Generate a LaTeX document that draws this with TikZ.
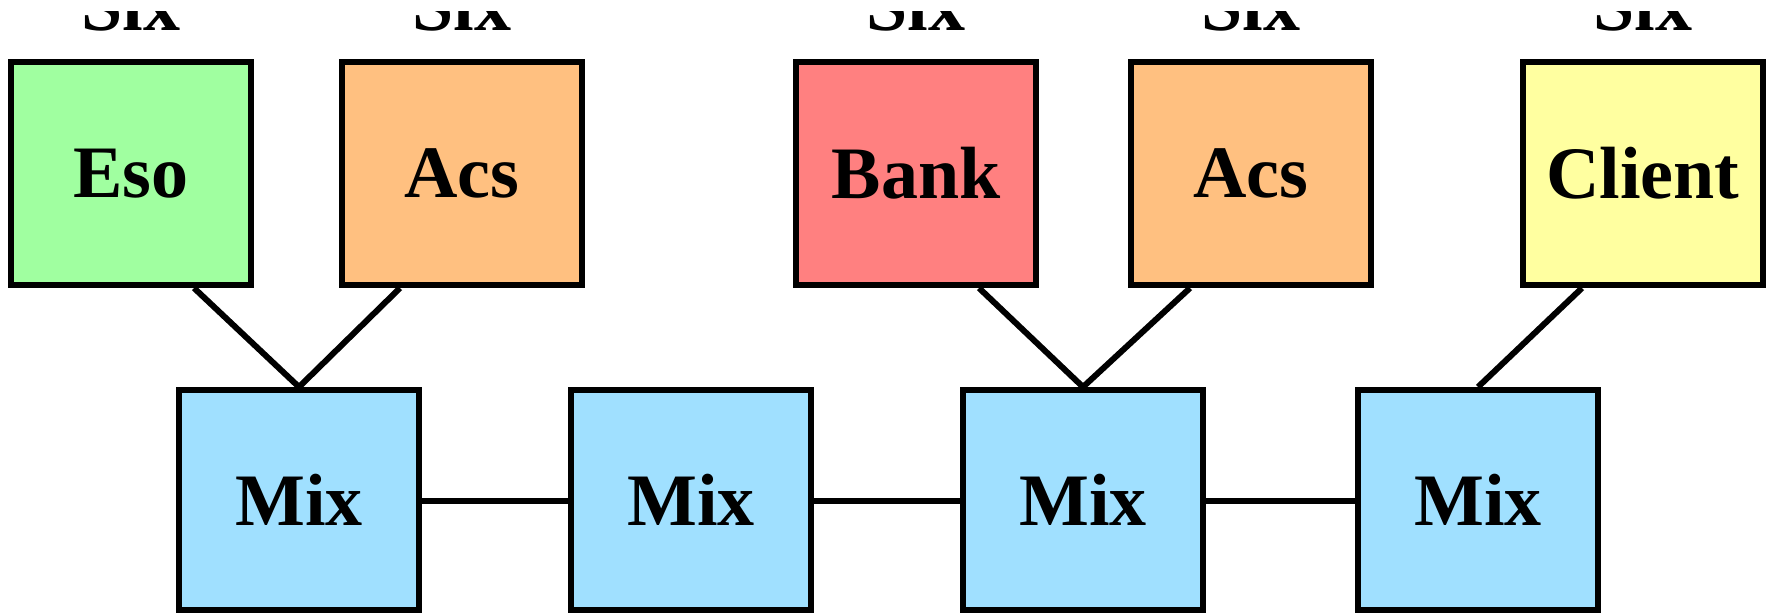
\documentclass[tikz,border=0pt]{standalone}
\usepackage{fontspec}
\setmainfont{Liberation Serif}
\usetikzlibrary{calc}
\definecolor{cgreen}{RGB}{160,255,160}
\definecolor{corange}{RGB}{255,192,128}
\definecolor{cred}{RGB}{255,128,128}
\definecolor{cyellow}{RGB}{255,255,160}
\definecolor{cblue}{RGB}{160,224,255}
\tikzset{
  topbox/.style={draw=black, line width=6pt, minimum width=240pt, minimum height=223pt, inner sep=0pt, font=\fontsize{74}{80}\selectfont\bfseries},
  mixbox/.style={draw=black, line width=6pt, fill=cblue, minimum width=240pt, minimum height=220pt, inner sep=0pt, font=\fontsize{74}{80}\selectfont\bfseries},
  sixlabel/.style={anchor=base, inner sep=0pt, font=\fontsize{74}{80}\selectfont\bfseries},
  conn/.style={draw=black, line width=6pt}
}
\begin{document}
\begin{tikzpicture}[x=1pt, y=-1pt]
\useasboundingbox (0,0) rectangle (1773,614);
% top row
\node[topbox, fill=cgreen]  (eso)    at (131,173.5)  {Eso};
\node[topbox, fill=corange] (acsA)   at (462,173.5)  {Acs};
\node[topbox, fill=cred]    (bank)   at (916,173.5)  {Bank};
\node[topbox, fill=corange] (acsB)   at (1251,173.5) {Acs};
\node[topbox, fill=cyellow] (client) at (1643,173.5) {Client};
% labels above (cut off at the top, as in the original)
\begin{scope}
\clip (0,11.5) rectangle (1773,614);
\node[sixlabel] (sixA) at (131,30)  {Six};
\node[sixlabel] (sixB) at (462,30)  {Six};
\node[sixlabel] (sixC) at (916,30)  {Six};
\node[sixlabel] (sixD) at (1251,30) {Six};
\node[sixlabel] (sixE) at (1643,30) {Six};
\end{scope}
% mix row
\node[mixbox] (mixA) at (299,500)  {Mix};
\node[mixbox] (mixB) at (691,500)  {Mix};
\node[mixbox] (mixC) at (1083,500) {Mix};
\node[mixbox] (mixD) at (1478,500) {Mix};
% connectors
\draw[conn] ($(eso.south)+(63,0)$) -- (mixA.north);
\draw[conn] ($(acsA.south)+(-62,0)$) -- (mixA.north);
\draw[conn] ($(bank.south)+(63,0)$) -- (mixC.north);
\draw[conn] ($(acsB.south)+(-61,0)$) -- (mixC.north);
\draw[conn] ($(client.south)+(-61,0)$) -- (mixD.north);
\draw[conn] ($(mixA.east)+(0,1)$) -- ($(mixB.west)+(0,1)$);
\draw[conn] ($(mixB.east)+(0,1)$) -- ($(mixC.west)+(0,1)$);
\draw[conn] ($(mixC.east)+(0,1)$) -- ($(mixD.west)+(0,1)$);
\end{tikzpicture}
\end{document}
